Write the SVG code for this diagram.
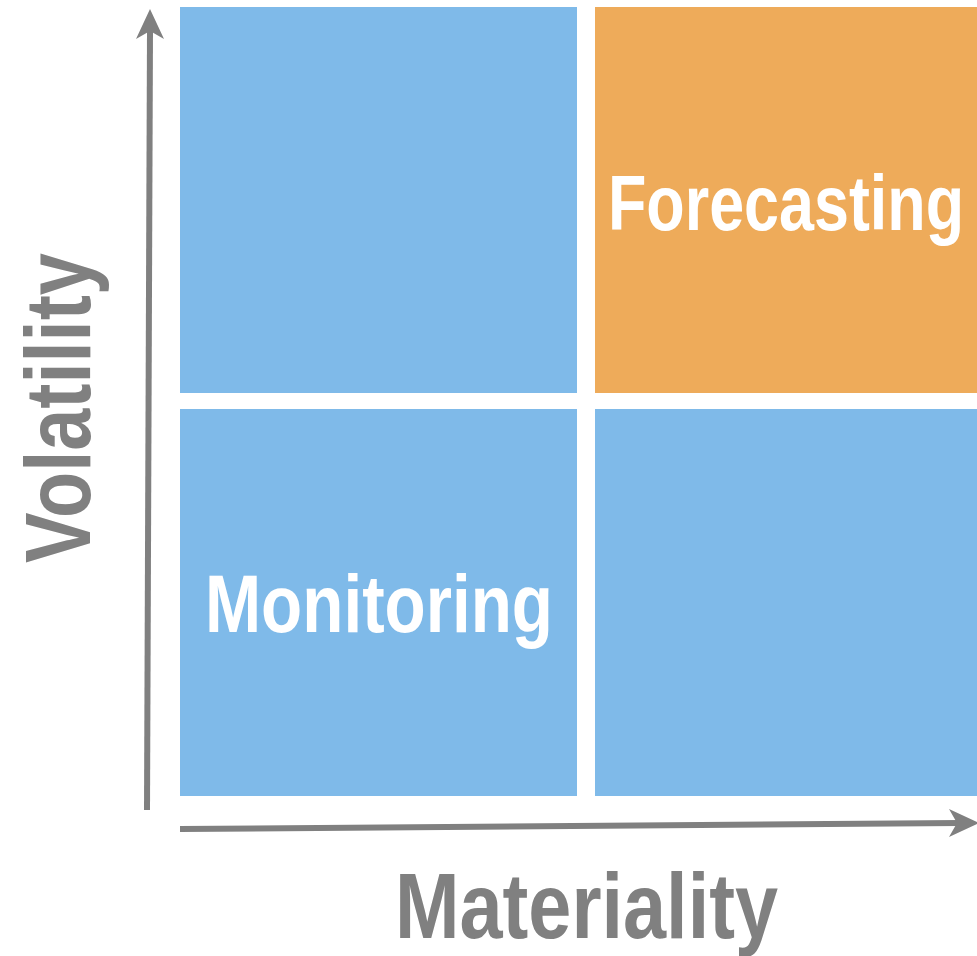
<svg xmlns="http://www.w3.org/2000/svg" width="977" height="956" viewBox="0 0 977 956">
<style>
.blue{fill:#7FBAE9}
.orange{fill:#EEAB5A}
.lbl{font-family:"Liberation Sans",Arial,sans-serif;font-weight:bold;fill:#FFFFFF}
.axlbl{font-family:"Liberation Sans",Arial,sans-serif;font-weight:bold;fill:#808080}
.axis{stroke:#808080;stroke-width:6;fill:none}
.head{fill:#808080}
</style>
<rect width="977" height="956" fill="#FFFFFF"/>
<g id="q-top-left"><rect class="blue" x="180" y="7" width="397" height="386"/></g>
<g id="q-top-right"><rect class="orange" x="595" y="7" width="382" height="386"/>
<text class="lbl" x="608" y="230" font-size="78" textLength="356" lengthAdjust="spacingAndGlyphs">Forecasting</text></g>
<g id="q-bottom-left"><rect class="blue" x="180" y="409" width="397" height="387"/>
<text class="lbl" x="205" y="632" font-size="81" textLength="348" lengthAdjust="spacingAndGlyphs">Monitoring</text></g>
<g id="q-bottom-right"><rect class="blue" x="595" y="409" width="382" height="387"/></g>
<g id="connectors">
<line class="axis" x1="147" y1="810" x2="150" y2="30"/>
<path class="head" d="M150,9 L164,39 L150,31 L136,39 Z"/>
<line class="axis" x1="180" y1="829" x2="960" y2="823"/>
<path class="head" d="M979,823 L949,809 L957,823 L949,837 Z"/>
</g>
<g id="y-label"><text class="axlbl" transform="translate(90,563) rotate(-90)" font-size="92" textLength="310" lengthAdjust="spacingAndGlyphs">Volatility</text></g>
<g id="x-label"><text class="axlbl" x="395" y="938" font-size="92" textLength="383" lengthAdjust="spacingAndGlyphs">Materiality</text></g>
</svg>
